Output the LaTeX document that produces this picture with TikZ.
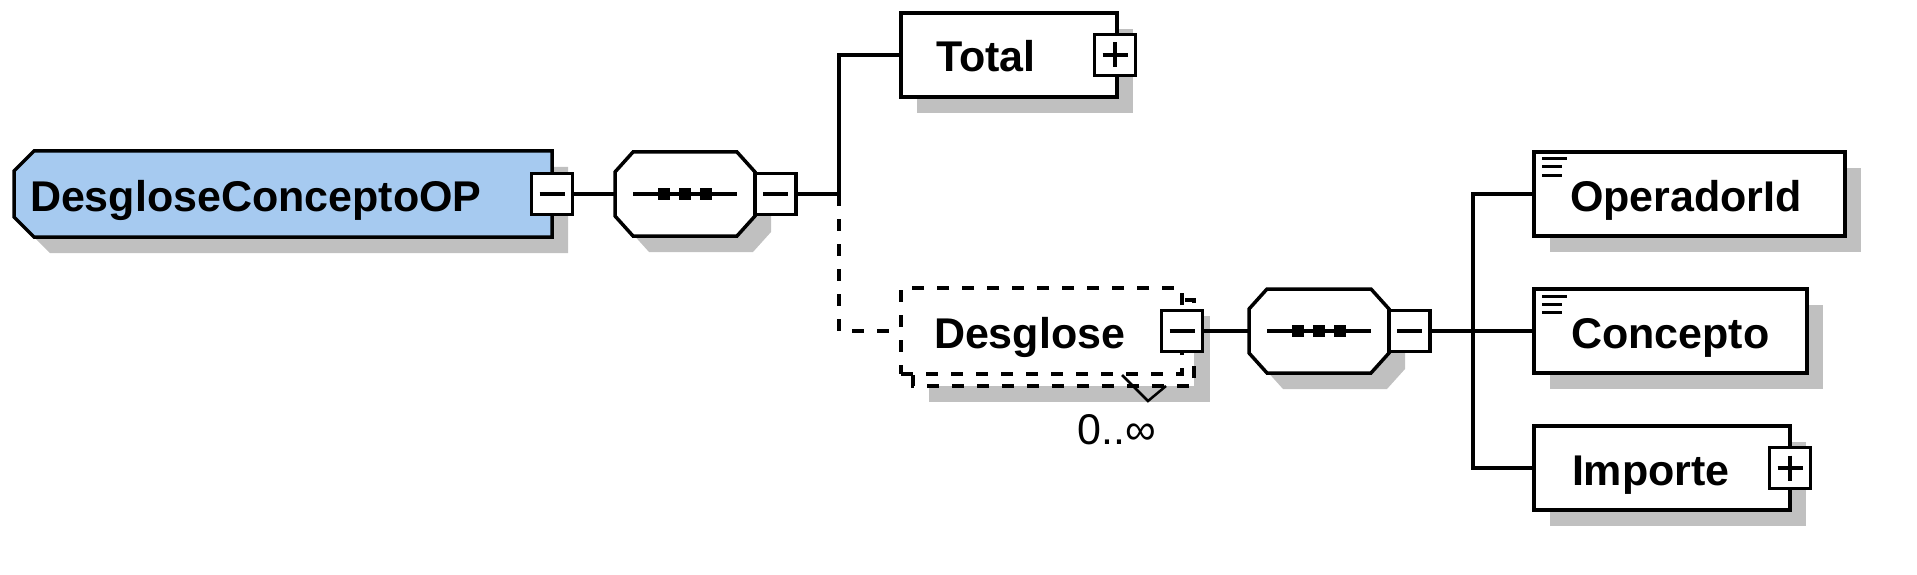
\documentclass[tikz,border=0pt]{standalone}
\usepackage{fontspec}
\setmainfont{Liberation Sans}
\usetikzlibrary{calc}
\definecolor{rootblue}{RGB}{166,202,240}
\definecolor{shgray}{RGB}{192,192,192}
\pgfdeclarelayer{shadowlayer}
\pgfdeclarelayer{shapelayer}
\pgfsetlayers{shadowlayer,shapelayer,main}
\newcommand\elfont{\fontsize{43}{50}\selectfont\bfseries}
\newcommand\cardfont{\fontsize{43}{50}\selectfont}
% chamfered outline of the root (left corners cut), shifted by #1,#2
\newcommand\rootpath[2]{($(root.north west)+(20+#1,#2)$) -- ($(root.north east)+(#1,#2)$) -- ($(root.south east)+(#1,#2)$) -- ($(root.south west)+(20+#1,#2)$) -- ($(root.south west)+(#1,-20+#2)$) -- ($(root.north west)+(#1,20+#2)$) -- cycle}
% octagon outline of a sequence compositor #1, shifted by #2
\newcommand\octpath[2]{($(#1.north west)+(18+#2,#2)$) -- ($(#1.north east)+(-18+#2,#2)$) -- ($(#1.north east)+(#2,20+#2)$) -- ($(#1.south east)+(#2,-20+#2)$) -- ($(#1.south east)+(-18+#2,#2)$) -- ($(#1.south west)+(18+#2,#2)$) -- ($(#1.south west)+(#2,-20+#2)$) -- ($(#1.north west)+(#2,20+#2)$) -- cycle}
% rectangle of node #1 shifted by #2
\newcommand\rectpath[2]{($(#1.north west)+(#2,#2)$) rectangle ($(#1.south east)+(#2,#2)$)}
\begin{document}
\begin{tikzpicture}[x=1pt,y=-1pt, line width=3.5pt,
  elem/.style={rectangle, outer sep=0pt, minimum height=84pt, inner ysep=0pt, text height=40pt, text depth=6pt, align=left, font=\elfont},
  boxed/.style={elem, draw, fill=white},
  pmbox/.style={rectangle, outer sep=0pt, draw, fill=white, minimum size=41pt, inner sep=0pt, line width=3.2pt},
  minus/.style={pmbox, path picture={\draw[line width=3.2pt] ([xshift=8pt]path picture bounding box.west) -- ([xshift=-8pt]path picture bounding box.east);}},
  plus/.style={pmbox, path picture={\draw[line width=3.2pt] ([xshift=8pt]path picture bounding box.west) -- ([xshift=-8pt]path picture bounding box.east) ([yshift=-8pt]path picture bounding box.north) -- ([yshift=8pt]path picture bounding box.south);}},
  seqshape/.style={rectangle, outer sep=0pt, minimum width=140pt, minimum height=84pt, inner sep=0pt},
  conn/.style={line width=3.5pt},
  optconn/.style={conn, dash pattern=on 12pt off 13pt},
  optbox/.style={dash pattern=on 12pt off 13pt},
  outline/.style={line width=3.5pt, draw=black},
  symline/.style={line width=3.2pt},
]
\useasboundingbox (0,0) rectangle (1917,575);

% ---- nodes
\node[elem, minimum width=538pt, minimum height=86pt, text width=506pt, inner xsep=16pt] (root) at (283,194) {DesgloseConceptoOP};
\node[minus] (rootpm) at (root.east) {};
\node[seqshape] (seqA) at (685,194) {};
\node[minus, anchor=west] (seqApm) at (seqA.east) {};
\coordinate (jA) at (839,194);
\node[boxed, minimum width=216pt, text width=146pt, inner xsep=35pt] (total) at (1009,55) {Total};
\node[plus] (totalpm) at ([xshift=-2pt]total.east) {};
\node[boxed, optbox, minimum width=281pt, minimum height=86pt, text width=215pt, inner xsep=33pt] (desg) at (1041.5,331) {Desglose};
\node[minus] (desgpm) at (desg.east) {};
\node[anchor=base, font=\cardfont, inner sep=0pt] (card) at (1117,444) {0..∞};
\node[seqshape] (seqB) at (1319,331) {};
\node[minus, anchor=west] (seqBpm) at (seqB.east) {};
\coordinate (jB) at (1473,331);
\node[boxed, minimum width=311pt, text width=239pt, inner xsep=36pt] (opid) at (1689.5,194) {OperadorId};
\node[boxed, minimum width=273pt, text width=199pt, inner xsep=37pt] (conc) at (1670.5,331) {Concepto};
\node[boxed, minimum width=256pt, text width=180pt, inner xsep=38pt] (imp) at (1662,468) {Importe};
\node[plus] (imppm) at (imp.east) {};

% ---- shadows
\begin{pgfonlayer}{shadowlayer}
  \fill[shgray] \rootpath{16}{16};
  \fill[shgray] \octpath{seqA}{16};
  \fill[shgray] \octpath{seqB}{16};
  \fill[shgray] \rectpath{total}{16};
  \fill[shgray] \rectpath{desg}{28};
  \fill[shgray] \rectpath{opid}{16};
  \fill[shgray] \rectpath{conc}{16};
  \fill[shgray] \rectpath{imp}{16};
\end{pgfonlayer}

% ---- custom outlines
\begin{pgfonlayer}{shapelayer}
  \pgfsetlinewidth{3.5pt}
  \filldraw[outline, fill=rootblue] \rootpath{0}{0};
  \filldraw[outline, fill=white] \octpath{seqA}{0};
  \filldraw[outline, fill=white] \octpath{seqB}{0};
  \filldraw[outline, fill=white, optbox] \rectpath{desg}{12};
\end{pgfonlayer}

% ---- sequence symbols
\foreach \s in {seqA,seqB}{
  \draw[symline] ($(\s.center)+(-52,0)$) -- ($(\s.center)+(52,0)$);
  \foreach \dx in {-21,0,21}
    \fill ($(\s.center)+(\dx-6,-6)$) rectangle ++(12,12);
}

% ---- simple-content icons
\foreach \n in {opid,conc}{
  \draw[line width=3pt] ($(\n.north west)+(8,7)$) -- ++(25,0)
        ($(\n.north west)+(8,15)$) -- ++(20,0)
        ($(\n.north west)+(8,23)$) -- ++(20,0);
}

% ---- cardinality notch
\draw[line width=2.5pt] (1122,375) -- (1148,401) -- (1166,386);

% ---- connectors
\draw[conn] (rootpm) -- (seqA);
\draw[conn] (seqApm) -- (jA);
\draw[conn] (jA) |- (total);
\draw[optconn] (jA) |- (desg);
\draw[conn] (desgpm) -- (seqB);
\draw[conn] (seqBpm) -- (jB);
\draw[conn] (jB) |- (opid);
\draw[conn] (jB) -- (conc);
\draw[conn] (jB) |- (imp);
\end{tikzpicture}
\end{document}
